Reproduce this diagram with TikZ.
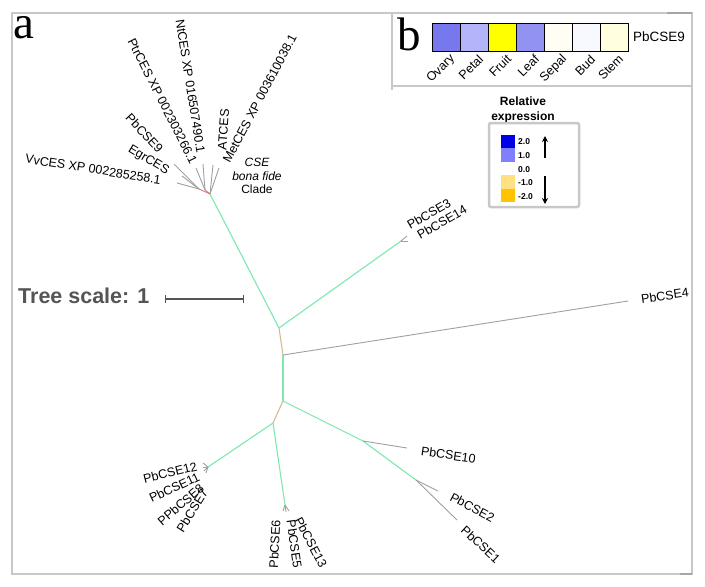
\documentclass[tikz,border=0pt]{standalone}
\usepackage{fontspec}
\setmainfont{Liberation Sans}
\newfontfamily\serifpanel{Liberation Serif}
\usetikzlibrary{arrows.meta}
\definecolor{treegreen}{RGB}{125,232,175}
\definecolor{treetan}{RGB}{215,185,150}
\definecolor{leafgray}{RGB}{160,160,160}
\definecolor{treered}{RGB}{225,120,120}
\definecolor{framegray}{RGB}{200,200,200}
\definecolor{framedark}{RGB}{165,165,165}
\definecolor{scalegray}{RGB}{85,85,85}
\definecolor{cOvary}{RGB}{120,120,238}
\definecolor{cPetal}{RGB}{180,180,250}
\definecolor{cFruit}{RGB}{255,255,0}
\definecolor{cLeaf}{RGB}{146,146,242}
\definecolor{cSepal}{RGB}{255,253,244}
\definecolor{cBud}{RGB}{248,248,255}
\definecolor{cStem}{RGB}{255,255,224}
\definecolor{lgA}{RGB}{0,0,230}
\definecolor{lgB}{RGB}{128,128,255}
\definecolor{lgC}{RGB}{255,255,255}
\definecolor{lgD}{RGB}{255,225,130}
\definecolor{lgE}{RGB}{255,195,0}
\tikzset{
  lab/.style={inner sep=0pt, font=\fontsize{12.5}{14}\selectfont},
  tis/.style={inner sep=0pt, font=\fontsize{12.5}{14}\selectfont, rotate=45, anchor=east},
  gbr/.style={draw=treegreen, line width=1.1pt},
  tbr/.style={draw=treetan, line width=1.1pt},
  rbr/.style={draw=treered, line width=0.9pt},
  lf/.style={draw=leafgray, line width=0.9pt},
  framel/.style={draw=framegray, line width=2pt},
  hcell/.style={draw=black, line width=0.6pt, minimum width=28pt, minimum height=28pt, inner sep=0pt},
  lgcell/.style={inner sep=0pt, minimum width=14pt, minimum height=13.4pt},
  lgnum/.style={inner sep=0pt, anchor=west, font=\fontsize{8.5}{9}\selectfont\bfseries},
  panel/.style={inner sep=0pt, anchor=base west, font=\serifpanel\fontsize{47}{50}\selectfont},
}
\begin{document}
\begin{tikzpicture}[x=1pt,y=-1pt]
\useasboundingbox (0,0) rectangle (705,587);
\fill[white] (0,0) rectangle (705,587);

% frame
\coordinate (fA) at (12,13);
\coordinate (fB) at (692,13);
\coordinate (fC) at (692,574);
\coordinate (fD) at (12,574);
\draw[framel] (fA) -- (fB) -- (fC) -- (fD) -- cycle;
\coordinate (bA) at (392,13);
\coordinate (bB) at (392,90);
\coordinate (bC) at (392,86);
\coordinate (bD) at (692,86);
\draw[framel] (bA) -- (bB);
\draw[framel] (bC) -- (bD);
\coordinate (dA) at (667,13);
\draw[draw=framedark, line width=2pt] (dA) -- (fB);
\coordinate (dB) at (680,574);
\draw[draw=framedark, line width=2pt] (dB) -- (fC);

% panel letters
\node[panel] (pa) at (13,38) {a};
\node[panel] (pb) at (397,50) {b};

% heatmap
\foreach \c [count=\i from 0] in {cOvary,cPetal,cFruit,cLeaf,cSepal,cBud,cStem} {
  \node[hcell, fill=\c] (h\i) at ({446+28*\i},37) {};
}
\node[inner sep=0pt, anchor=west, font=\fontsize{13.5}{15}\selectfont] (hl) at (633,37) {PbCSE9};
\foreach \t [count=\i from 0] in {Ovary,Petal,Fruit,Leaf,Sepal,Bud,Stem} {
  \node[tis] (tl\i) at ({453+28*\i},57) {\t};
}

% legend
\node[align=center, inner sep=0pt, font=\fontsize{12}{14.5}\selectfont\bfseries] (lgt) at (523,110) {Relative\\expression};
\draw[draw=framegray, line width=2.5pt, rounded corners=2pt] (489,123) rectangle (579,207);
\foreach \c [count=\i from 0] in {lgA,lgB,lgC,lgD,lgE} {
  \node[lgcell, fill=\c] (lg\i) at (508,{141.7+13.4*\i}) {};
}
\foreach \t [count=\i from 0] in {2.0,1.0,0.0,-1.0,-2.0} {
  \node[lgnum] (ln\i) at (518,{142+13.6*\i}) {\t};
}
\coordinate (upA) at (545,158);
\coordinate (upB) at (545,136);
\coordinate (dnA) at (545,176);
\coordinate (dnB) at (545,204);
\draw[line width=1.3pt, -{Stealth[length=6pt,width=6pt]}] (upA) -- (upB);
\draw[line width=1.3pt, -{Stealth[length=6pt,width=6pt]}] (dnA) -- (dnB);

% tree scale
\node[inner sep=0pt, anchor=west, text=scalegray, font=\fontsize{21.5}{24}\selectfont\bfseries] (ts) at (18,296) {Tree scale: 1};
\coordinate (sA) at (165,299);
\coordinate (sB) at (243,299);
\draw[draw=scalegray, line width=1.4pt] (sA) -- (sB);
\draw[draw=scalegray, line width=1pt] ([yshift=-4pt]sA) -- ([yshift=4pt]sA);
\draw[draw=scalegray, line width=1pt] ([yshift=-4pt]sB) -- ([yshift=4pt]sB);

% tree internal nodes
\coordinate (t0) at (210,194);
\coordinate (t1) at (199,189);
\coordinate (t2) at (205,190);
\coordinate (n1) at (279,328);
\coordinate (n2) at (283,355);
\coordinate (n3) at (283,401);
\coordinate (n4) at (363,441);
\coordinate (n5) at (416,480);
\coordinate (n6) at (273,423);
\coordinate (c1) at (208,467);
\coordinate (c2) at (285,505);
\coordinate (c3) at (401,241);
% leaf ends
\coordinate (lvv) at (177,183);
\coordinate (leg) at (182,176);
\coordinate (lp9) at (174,164);
\coordinate (lptr) at (196,168);
\coordinate (lnt) at (203,164);
\coordinate (lat) at (213,165);
\coordinate (lmet) at (219,168);
\coordinate (l3) at (407,236);
\coordinate (l14) at (408,241);
\coordinate (l4) at (628,301);
\coordinate (l10) at (407,448);
\coordinate (l2) at (438,491);
\coordinate (l1) at (457,520);
\coordinate (l12) at (203,463);
\coordinate (l11) at (203,467);
\coordinate (l8) at (204,471);
\coordinate (l7) at (206,473);
\coordinate (l6) at (283,511);
\coordinate (l5) at (286,512);
\coordinate (l13) at (289,511);

% branches
\draw[gbr] (t0) -- (n1);
\draw[gbr] (n1) -- (c3);
\draw[tbr] (n1) -- (n2);
\draw[gbr] (n2) -- (n3);
\draw[gbr] (n3) -- (n4);
\draw[gbr] (n4) -- (n5);
\draw[tbr] (n3) -- (n6);
\draw[gbr] (n6) -- (c1);
\draw[gbr] (n6) -- (c2);
\draw[rbr] (t0) -- (t1);
\draw[rbr] (t0) -- (t2);
\draw[lf] (t1) -- (lvv);
\draw[lf] (t1) -- (leg);
\draw[lf] (t1) -- (lp9);
\draw[lf] (t2) -- (lptr);
\draw[lf] (t2) -- (lnt);
\draw[lf] (t0) -- (lat);
\draw[lf] (t0) -- (lmet);
\draw[lf] (c3) -- (l3);
\draw[lf] (c3) -- (l14);
\draw[lf] (n2) -- (l4);
\draw[lf] (n4) -- (l10);
\draw[lf] (n5) -- (l2);
\draw[lf] (n5) -- (l1);
\foreach \l in {l12,l11,l8,l7} { \draw[lf] (c1) -- (\l); }
\foreach \l in {l6,l5,l13} { \draw[lf] (c2) -- (\l); }

% leaf labels
\node[lab, anchor=east, rotate=-9] (xvv) at (161,180) {VvCES XP 002285258.1};
\node[lab, anchor=east, rotate=-31] (xeg) at (168,172) {EgrCES};
\node[lab, anchor=east, rotate=-47] (xp9) at (161,151) {PbCSE9};
\node[lab, anchor=east, rotate=-63] (xptr) at (194,163) {PtrCES XP 002303266.1};
\node[lab, anchor=east, rotate=-81] (xnt) at (201,153) {NtCES XP 016507490.1};
\node[lab, anchor=west, rotate=86] (xat) at (222,150) {ATCES};
\node[lab, anchor=west, rotate=62] (xmet) at (226,162) {MetCES XP 003610038.1};
\node[lab, align=center, font=\fontsize{12}{13.5}\selectfont] (clade) at (257,176) {\itshape CSE\\\itshape bona fide\\Clade};
\node[lab, anchor=west, rotate=30] (x3) at (408,226) {PbCSE3};
\node[lab, anchor=west, rotate=30] (x14) at (418,236) {PbCSE14};
\node[lab, anchor=west, rotate=8] (x4) at (641,299) {PbCSE4};
\node[lab, anchor=west, rotate=-8] (x10) at (421,451) {PbCSE10};
\node[lab, anchor=west, rotate=-28] (x2) at (451,496) {PbCSE2};
\node[lab, anchor=west, rotate=-43] (x1) at (463,528) {PbCSE1};
\node[lab, anchor=east, rotate=14] (x12) at (197,466) {PbCSE12};
\node[lab, anchor=east, rotate=25] (x11) at (199,476) {PbCSE11};
\node[lab, anchor=east, rotate=41] (x8) at (202,486) {PPbCSE8};
\node[lab, anchor=east, rotate=58] (x7) at (205,490) {PbCSE7};
\node[lab, anchor=east, rotate=87] (x6) at (276,520) {PbCSE6};
\node[lab, anchor=west, rotate=-82] (x5) at (291,520) {PbCSE5};
\node[lab, anchor=west, rotate=-62] (x13) at (298,518) {PbCSE13};
\end{tikzpicture}
\end{document}
